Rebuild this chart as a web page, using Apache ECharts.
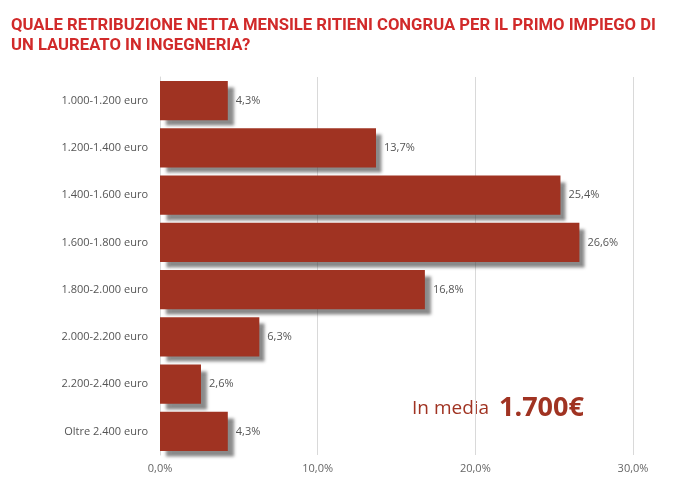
<!DOCTYPE html>
<html>
<head>
<meta charset="utf-8">
<script src="https://cdn.jsdelivr.net/npm/echarts@6/dist/echarts.min.js"></script>
<style>
  html, body { margin: 0; padding: 0; background: #fff; }
  #chart { width: 700px; height: 498px; }
</style>
</head>
<body>
<div id="chart"></div>
<script>
// fasce di retribuzione e percentuali
let categories = [
    '1.000-1.200 euro',
    '1.200-1.400 euro',
    '1.400-1.600 euro',
    '1.600-1.800 euro',
    '1.800-2.000 euro',
    '2.000-2.200 euro',
    '2.200-2.400 euro',
    'Oltre 2.400 euro',
];
let percentages = [4.3, 13.7, 25.4, 26.6, 16.8, 6.3, 2.6, 4.3];
let xTicks = [0, 10, 20, 30];

let titleText = 'QUALE RETRIBUZIONE NETTA MENSILE RITIENI CONGRUA PER IL PRIMO IMPIEGO DI\nUN LAUREATO IN INGEGNERIA?';
let barColor = '#a03322';
let labelFont = '"Open Sans", Lato, sans-serif';

function fmtPct(v, digits) {
    return v.toFixed(digits).replace('.', ',') + '%';
}

let chart = echarts.init(document.getElementById('chart'));
chart.setOption({
    animation: false,
    grid: {
        left: 160,
        right: 67,
        top: 77,
        bottom: 43,
        containLabel: false,
    },
    xAxis: {
        type: 'value',
        min: xTicks[0],
        max: xTicks[xTicks.length - 1],
        interval: 10,
        axisLine: { show: false },
        axisTick: { show: false },
        splitLine: { lineStyle: { color: '#d9d9d9', width: 1 } },
        axisLabel: {
            color: '#666',
            fontFamily: labelFont,
            fontSize: 11,
            margin: 8,
            formatter: function (v) { return fmtPct(v, 1); },
        },
    },
    yAxis: {
        type: 'category',
        data: categories,
        inverse: true,
        axisLine: { show: true, lineStyle: { color: '#d9d9d9' } },
        axisTick: { show: false },
        axisLabel: {
            color: '#555',
            fontFamily: labelFont,
            fontSize: 11,
            margin: 12,
        },
    },
    series: [
        {
            type: 'bar',
            data: percentages,
            barCategoryGap: '17%',
            itemStyle: {
                color: barColor,
                shadowColor: 'rgba(60,60,60,0.6)',
                shadowBlur: 3,
                shadowOffsetX: 6,
                shadowOffsetY: 6,
            },
            label: {
                show: true,
                position: 'right',
                distance: 8,
                color: '#555',
                fontFamily: labelFont,
                fontSize: 11,
                formatter: function (p) { return fmtPct(p.value, 1); },
            },
        },
    ],
    graphic: [
        {
            type: 'text',
            x: 11,
            y: 16,
            scaleX: 0.98,
            style: {
                text: titleText,
                fill: '#d12a2a',
                font: 'bold 17px Roboto, sans-serif',
                lineHeight: 19.5,
            },
        },
        {
            type: 'text',
            left: 412,
            top: 395,
            style: {
                text: '{a|In media  }{b|1.700€}',
                rich: {
                    a: {
                        fontFamily: labelFont,
                        fontSize: 19,
                        fill: barColor,
                        color: barColor,
                    },
                    b: {
                        fontFamily: labelFont,
                        fontSize: 27,
                        fontWeight: 'bold',
                        fill: barColor,
                        color: barColor,
                    },
                },
            },
        },
    ],
});
</script>
</body>
</html>
